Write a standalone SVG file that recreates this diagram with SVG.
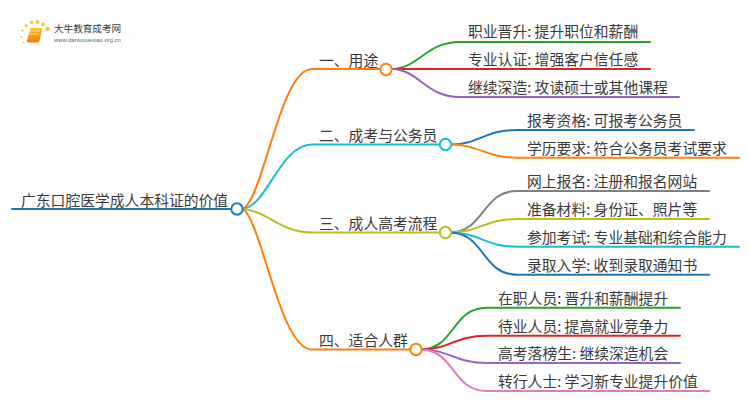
<svg xmlns="http://www.w3.org/2000/svg" width="750" height="410" viewBox="0 0 750 410">
<style>
text{font-family:"Noto Sans CJK SC","Noto Sans",sans-serif;font-size:14.8px;fill:#3a3a3a}
.c path{fill:none;stroke-width:2;stroke-linecap:round}
.n{fill:#fff;stroke-width:2}
</style>
<rect width="750" height="410" fill="#fff"/>
<g id="logo">
<defs><linearGradient id="bk" x1="0" y1="0" x2="0" y2="1"><stop offset="0" stop-color="#fbc02d"/><stop offset="1" stop-color="#ef7d0c"/></linearGradient>
<linearGradient id="ln" x1="0" y1="0" x2="1" y2="0"><stop offset="0" stop-color="#ddd" stop-opacity="0"/><stop offset=".3" stop-color="#ddd"/><stop offset="1" stop-color="#ddd" stop-opacity="0"/></linearGradient></defs>
<path d="M30.500 28h12l-3 13q-.5 1.500-2 1.500H28q-1.500 0-1-2z" fill="url(#bk)"/>
<path d="M30.500 31h9M29.500 34h9" stroke="#fde3a0" stroke-width=".8"/>
<g fill="#fbc44a"><circle cx="47.500" cy="29" r="2.300"/><circle cx="43" cy="24.500" r="2"/><circle cx="37.500" cy="22" r="2"/><circle cx="31.500" cy="22.500" r="1.800"/><circle cx="26" cy="25.500" r="1.500"/><circle cx="22.500" cy="30.500" r="1.300"/><circle cx="21.500" cy="37" r="1.100"/><circle cx="23.500" cy="42.500" r="1"/></g>
<rect x="45" y="32.500" width="90" height="1" fill="url(#ln)"/>
<text x="54" y="31.500" style="font-size:9.600px;fill:#3a3a3a">大牛教育成考网</text>
<text x="54" y="41.500" style="font-size:5.900px;fill:#666;font-family:'Liberation Sans',sans-serif">www.daniuxuexiao.org.cn</text>
</g>
<g id="connectors" class="c">
<path d="M12 209H231" stroke="#1f77b4" stroke-width="2.400"/>
<path d="M243 209C264 197 280 69 312 69H380" stroke="#ff7f0e"/>
<path d="M243 209C268 205 280 144.500 312 144.500H440" stroke="#17becf"/>
<path d="M243 209C268 211 280 232.500 312 232.500H440" stroke="#bcbd22"/>
<path d="M243 209C262 222 280 349.500 312 349.500H410" stroke="#ff7f0e"/>
<path d="M392 69C420 68 425 42 460 42H650" stroke="#2ca02c"/>
<path d="M392 69H650" stroke="#d62728"/>
<path d="M392 69C420 70 425 97 460 97H679" stroke="#9467bd"/>
<path d="M451 144.500C480 144 485 130 517 130H694" stroke="#1f77b4"/>
<path d="M451 144.500C480 145 485 157.700 517 157.700H739" stroke="#ff7f0e"/>
<path d="M451 232.500C485 231 482 191 517 191H709" stroke="#7f7f7f"/>
<path d="M451 232.500C480 232 485 219 517 219H709" stroke="#bcbd22"/>
<path d="M451 232.500C480 233 485 246.700 517 246.700H739" stroke="#17becf"/>
<path d="M451 232.500C485 234 482 274.700 517 274.700H709" stroke="#1f77b4"/>
<path d="M422 349.500C455 348 452 307.700 487 307.700H680" stroke="#2ca02c"/>
<path d="M422 349.500C450 349 455 335.700 487 335.700H680" stroke="#d62728"/>
<path d="M422 349.500C450 350 455 363 487 363H680" stroke="#9467bd"/>
<path d="M422 349.500C455 351 452 391 487 391H709" stroke="#e377c2"/>
</g>
<g id="root"><text x="21" y="206">广东口腔医学成人本科证的价值</text><circle class="n" cx="237" cy="209" r="5.700" stroke="#1f77b4"/></g>
<g id="b1"><text x="319" y="66">一、用途</text><circle class="n" cx="386" cy="69.500" r="5.700" stroke="#ff7f0e"/></g>
<g id="b1-1"><text x="468" y="37">职业晋升: 提升职位和薪酬</text></g>
<g id="b1-2"><text x="468" y="65">专业认证: 增强客户信任感</text></g>
<g id="b1-3"><text x="468" y="93">继续深造: 攻读硕士或其他课程</text></g>
<g id="b2"><text x="319" y="141">二、成考与公务员</text><circle class="n" cx="445.500" cy="144.500" r="5.700" stroke="#17becf"/></g>
<g id="b2-1"><text x="527" y="126">报考资格: 可报考公务员</text></g>
<g id="b2-2"><text x="527" y="153.500">学历要求: 符合公务员考试要求</text></g>
<g id="b3"><text x="319" y="229">三、成人高考流程</text><circle class="n" cx="445.500" cy="232.500" r="5.700" stroke="#bcbd22"/></g>
<g id="b3-1"><text x="527" y="187">网上报名: 注册和报名网站</text></g>
<g id="b3-2"><text x="527" y="215">准备材料: 身份证、照片等</text></g>
<g id="b3-3"><text x="527" y="243">参加考试: 专业基础和综合能力</text></g>
<g id="b3-4"><text x="527" y="270.500">录取入学: 收到录取通知书</text></g>
<g id="b4"><text x="319" y="346">四、适合人群</text><circle class="n" cx="416" cy="349.500" r="5.700" stroke="#ff7f0e"/></g>
<g id="b4-1"><text x="498" y="304">在职人员: 晋升和薪酬提升</text></g>
<g id="b4-2"><text x="498" y="331.500">待业人员: 提高就业竞争力</text></g>
<g id="b4-3"><text x="498" y="359">高考落榜生: 继续深造机会</text></g>
<g id="b4-4"><text x="498" y="387">转行人士: 学习新专业提升价值</text></g>
</svg>
